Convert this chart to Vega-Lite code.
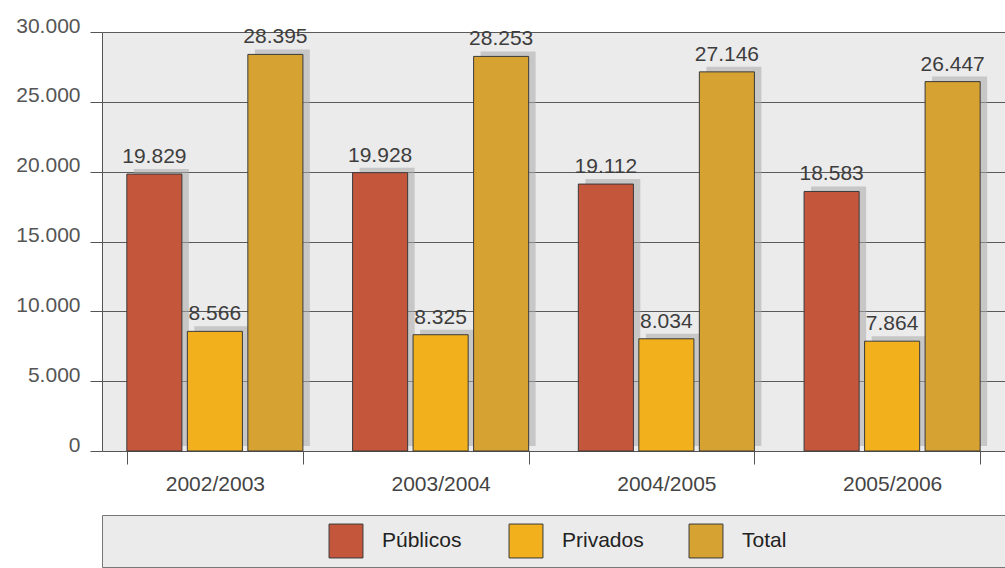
{
  "$schema": "https://vega.github.io/schema/vega-lite/v6.json",
  "background": "white",
  "autosize": {"type": "pad"},
  "padding": {"left": 15, "top": 15, "right": 0, "bottom": 0},
  "config": {
    "locale": {"number": {"decimal": ",", "thousands": ".", "grouping": [3], "currency": ["", " €"]}},
    "font": "Liberation Sans, Arial, sans-serif",
    "view": {"stroke": null}
  },
  "spacing": 20,
  "resolve": {"scale": {"x": "independent"}},
  "vconcat": [
    {
      "width": 903,
      "height": 419,
      "view": {"fill": "#ebebeb", "stroke": null},
      "data": {
        "values": [
          {"curso": "2002/2003", "tipo": "Públicos", "valor": 19829},
          {"curso": "2002/2003", "tipo": "Privados", "valor": 8566},
          {"curso": "2002/2003", "tipo": "Total", "valor": 28395},
          {"curso": "2003/2004", "tipo": "Públicos", "valor": 19928},
          {"curso": "2003/2004", "tipo": "Privados", "valor": 8325},
          {"curso": "2003/2004", "tipo": "Total", "valor": 28253},
          {"curso": "2004/2005", "tipo": "Públicos", "valor": 19112},
          {"curso": "2004/2005", "tipo": "Privados", "valor": 8034},
          {"curso": "2004/2005", "tipo": "Total", "valor": 27146},
          {"curso": "2005/2006", "tipo": "Públicos", "valor": 18583},
          {"curso": "2005/2006", "tipo": "Privados", "valor": 7864},
          {"curso": "2005/2006", "tipo": "Total", "valor": 26447}
        ]
      },
      "encoding": {
        "x": {
          "field": "curso",
          "type": "nominal",
          "sort": null,
          "scale": {"paddingInner": 0.22, "paddingOuter": 0.11},
          "axis": {
            "title": null,
            "labelAngle": 0,
            "labelFontSize": 21,
            "labelColor": "#444444",
            "labelPadding": 9,
            "tickBand": "extent",
            "tickSize": 13,
            "tickColor": "#555555",
            "domainColor": "#555555",
            "minExtent": 40,
            "maxExtent": 40
          }
        },
        "xOffset": {
          "field": "tipo",
          "type": "nominal",
          "sort": ["Públicos", "Privados", "Total"],
          "scale": {"type": "band", "paddingInner": 0.09, "paddingOuter": 0}
        },
        "y": {
          "field": "valor",
          "type": "quantitative",
          "scale": {"domain": [0, 30000], "nice": false},
          "axis": {
            "title": null,
            "values": [0, 5000, 10000, 15000, 20000, 25000, 30000],
            "format": ",d",
            "labelFontSize": 21,
            "labelColor": "#555555",
            "labelBaseline": "alphabetic",
            "labelPadding": 10,
            "tickSize": 12,
            "tickColor": "#555555",
            "domainColor": "#555555",
            "gridColor": "#5a5a5a",
            "gridWidth": 1,
            "minExtent": 84,
            "maxExtent": 84
          }
        }
      },
      "layer": [
        {
          "mark": {"type": "bar", "color": "#a9a9a9", "opacity": 0.55, "width": 55, "yOffset": -5},
          "encoding": {
            "xOffset": {
              "field": "tipo",
              "type": "nominal",
              "sort": ["Públicos", "Privados", "Total"],
              "scale": {"type": "band", "paddingInner": 0.321, "paddingOuter": 0.1155, "align": 1}
            }
          }
        },
        {
          "mark": {"type": "bar", "stroke": "#3a3a3a", "strokeWidth": 1},
          "encoding": {
            "color": {
              "field": "tipo",
              "type": "nominal",
              "scale": {"domain": ["Públicos", "Privados", "Total"], "range": ["#c4563c", "#f1b01c", "#d6a232"]},
              "legend": null
            }
          }
        },
        {
          "mark": {"type": "text", "baseline": "alphabetic", "dy": -11, "fontSize": 21, "color": "#3d3d3d"},
          "encoding": {"text": {"field": "valor", "type": "quantitative", "format": ",d"}}
        }
      ],
      "resolve": {"scale": {"xOffset": "independent"}}
    },
    {
      "width": 903,
      "height": 52,
      "view": {"fill": "#ebebeb", "stroke": "#777777", "strokeWidth": 1},
      "data": {"values": [{"tipo": "Públicos"}, {"tipo": "Privados"}, {"tipo": "Total"}]},
      "encoding": {
        "x": {
          "field": "tipo",
          "type": "nominal",
          "sort": null,
          "scale": {"type": "point", "range": [244, 604], "padding": 0},
          "axis": null
        }
      },
      "layer": [
        {
          "mark": {"type": "square", "size": 1150, "stroke": "#3a3a3a", "strokeWidth": 1, "opacity": 1},
          "encoding": {
            "color": {
              "field": "tipo",
              "type": "nominal",
              "scale": {"domain": ["Públicos", "Privados", "Total"], "range": ["#c4563c", "#f1b01c", "#d6a232"]},
              "legend": null
            }
          }
        },
        {
          "mark": {"type": "text", "align": "left", "baseline": "middle", "dx": 36, "fontSize": 21, "color": "#222222"},
          "encoding": {"text": {"field": "tipo", "type": "nominal"}}
        }
      ]
    }
  ]
}
